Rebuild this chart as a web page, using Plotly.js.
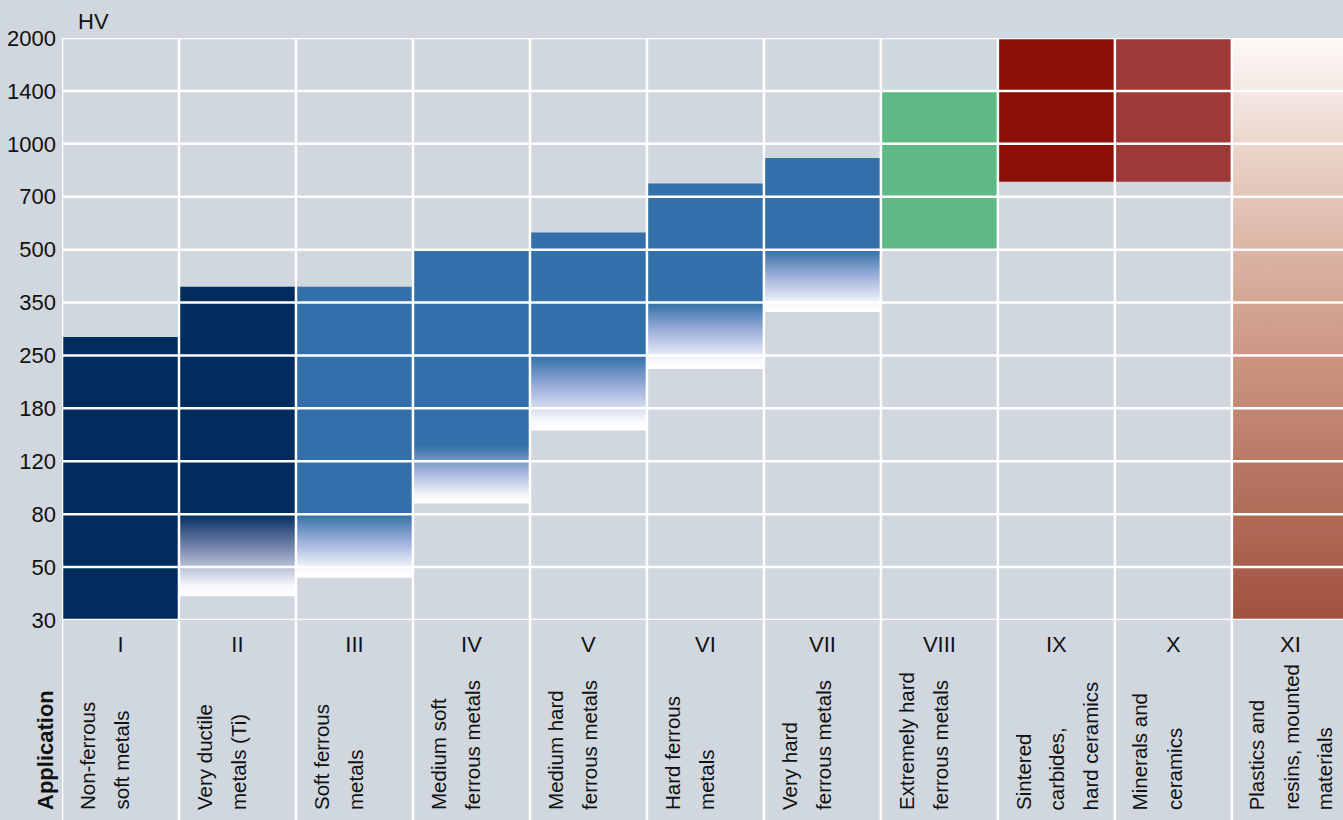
<!DOCTYPE html>
<html>
<head>
<meta charset="utf-8">
<script src="https://cdn.plot.ly/plotly-3.0.1.min.js"></script>
<style>
  html, body { margin: 0; padding: 0; background: #d0d7de; }
  #chart { width: 1343px; height: 820px; }
</style>
</head>
<body>
<div id="chart"></div>
<script>
// ---------- data ----------
const roman = ['I','II','III','IV','V','VI','VII','VIII','IX','X','XI'];
const application = [
  ['Non-ferrous','soft metals'],
  ['Very ductile','metals (Ti)'],
  ['Soft ferrous','metals'],
  ['Medium soft','ferrous metals'],
  ['Medium hard','ferrous metals'],
  ['Hard ferrous','metals'],
  ['Very hard','ferrous metals'],
  ['Extremely hard','ferrous metals'],
  ['Sintered','carbides,','hard ceramics'],
  ['Minerals and','ceramics'],
  ['Plastics and','resins, mounted','materials']
];
const hvTicks = [30, 50, 80, 120, 180, 250, 350, 500, 700, 1000, 1400, 2000];
// upper end of hardness range (HV)
const hvTop = [285, 395, 395, 500, 565, 775, 920, 1400, 2000, 2000, 2000];
// lower end of the solid (full colour) part (HV)
const hvSolidBottom = [30, 80, 80, 138, 250, 350, 500, 500, 785, 785, 2000];
// lower end of the faded range (HV)
const hvBottom = [30, 39, 46, 88, 155, 232, 332, 500, 785, 785, 30];

// ---------- styles ----------
const bg = '#d0d7de';
const navy = '#002d5e', blue = '#336fa8', green = '#5fb985', dred = '#8a0f05', red = '#9e393a';
const barColors = [navy, navy, blue, blue, blue, blue, blue, green, dred, red, null];
const midColors = {};
midColors[navy] = '#8490b6';
midColors[blue] = '#a2b3dc';
const FONT = '"Liberation Sans", Arial, sans-serif';
const FS = 22;
const FS_LBL = 20.5;

// HV -> position on the (equally spaced) hardness scale
function hvToIdx(v) {
  for (let k = 0; k < hvTicks.length - 1; k++) {
    if (v <= hvTicks[k + 1]) {
      return k + (v - hvTicks[k]) / (hvTicks[k + 1] - hvTicks[k]);
    }
  }
  return hvTicks.length - 1;
}

const traces = [];
for (let i = 0; i < roman.length; i++) {
  const b = hvToIdx(hvBottom[i]);
  const t = hvToIdx(hvTop[i]);
  const s = hvToIdx(hvSolidBottom[i]);
  const tr = {
    type: 'scatter', mode: 'none', fill: 'toself', hoverinfo: 'skip', showlegend: false,
    x: [i, i + 1, i + 1, i, i],
    y: [b, b, t, t, b]
  };
  if (i === roman.length - 1) {
    tr.fillgradient = {
      type: 'vertical', start: b, stop: t,
      colorscale: [[0, '#a05240'], [0.25, '#b77561'], [0.5, '#d09e8b'], [0.75, '#e5c9bc'], [1, '#fdf9f8']]
    };
  } else if (s > b + 1e-6) {
    const f = (s - b) / (t - b);
    const c = barColors[i];
    tr.fillgradient = {
      type: 'vertical', start: b, stop: t,
      colorscale: [[0, '#ffffff'], [f * 0.12, '#f9fafd'], [f * 0.55, midColors[c]], [f, c], [1, c]]
    };
  } else {
    tr.fillcolor = barColors[i];
  }
  traces.push(tr);
}

// grid (drawn above the bars)
const shapes = [];
const bottomPaper = -200 / 582;
for (let k = 0; k < hvTicks.length; k++) {
  shapes.push({type: 'line', layer: 'above', xref: 'paper', yref: 'y', x0: 0, x1: 1, y0: k, y1: k,
    line: {color: '#ffffff', width: 2.5}});
}
for (let i = 0; i <= roman.length; i++) {
  shapes.push({type: 'line', layer: 'above', xref: 'x', yref: 'paper', x0: i, x1: i, y0: bottomPaper, y1: 1,
    line: {color: '#ffffff', width: 2.5}});
}

const annotations = [];
annotations.push({xref: 'paper', yref: 'paper', x: 14 / 1281, y: 1 + 17 / 582, text: 'HV',
  showarrow: false, xanchor: 'left', yanchor: 'middle', font: {family: FONT, size: FS, color: '#111'}});
annotations.push({xref: 'paper', yref: 'paper', x: -17 / 1281, y: -192 / 582, text: '<b>Application</b>',
  textangle: -90, showarrow: false, xanchor: 'center', yanchor: 'bottom', font: {family: FONT, size: FS, color: '#111'}});
for (let i = 0; i < application.length; i++) {
  application[i].forEach((line, k) => {
    annotations.push({xref: 'x', yref: 'paper', x: i, xshift: 25 + 34 * k, y: -192 / 582, text: line,
      textangle: -90, showarrow: false, xanchor: 'center', yanchor: 'bottom', align: 'left',
      font: {family: FONT, size: FS_LBL, color: '#111'}});
  });
}

const layout = {
  width: 1343, height: 820,
  margin: {l: 62, r: 0, t: 38, b: 200},
  paper_bgcolor: bg, plot_bgcolor: bg,
  showlegend: false,
  xaxis: {
    range: [0, 10.95], showgrid: false, zeroline: false, showline: false, fixedrange: true,
    tickvals: roman.map((r, i) => i + 0.5), ticktext: roman, ticks: '', ticklabelstandoff: 9,
    tickfont: {family: FONT, size: FS, color: '#111'}
  },
  yaxis: {
    range: [0, hvTicks.length - 1], showgrid: false, zeroline: false, showline: false, fixedrange: true,
    tickvals: hvTicks.map((v, k) => k), ticktext: hvTicks.map(String), ticks: '', ticklabelstandoff: 5,
    tickfont: {family: FONT, size: FS, color: '#111'}
  },
  shapes: shapes,
  annotations: annotations
};

Plotly.newPlot('chart', traces, layout, {displayModeBar: false, staticPlot: true});
</script>
</body>
</html>
